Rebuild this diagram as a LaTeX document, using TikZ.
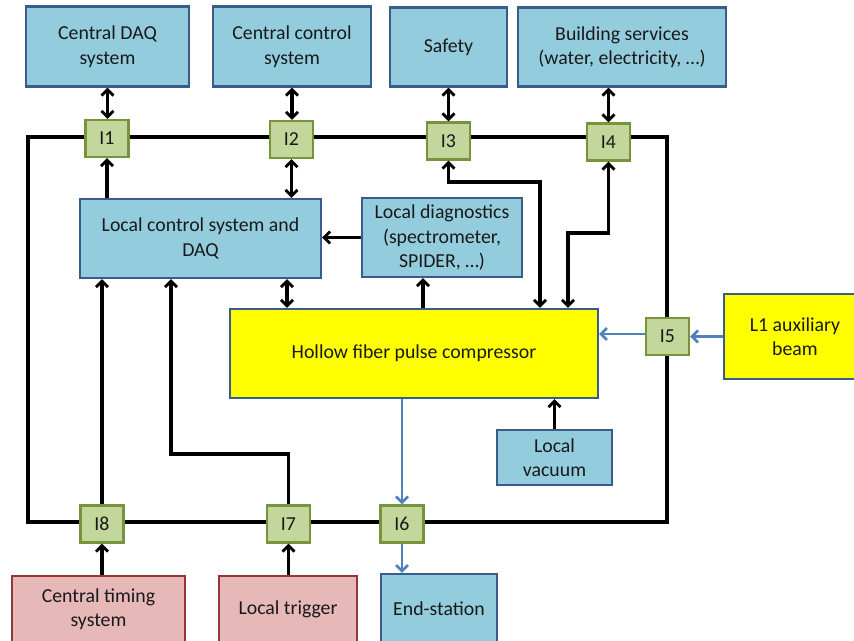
\documentclass[tikz,border=0pt]{standalone}
\usepackage{fontspec}
\setmainfont{Carlito}
\usetikzlibrary{arrows.meta,backgrounds}
\definecolor{bfill}{RGB}{147,205,221}
\definecolor{bdraw}{RGB}{56,93,138}
\definecolor{gfill}{RGB}{195,214,155}
\definecolor{gdraw}{RGB}{119,147,60}
\definecolor{pfill}{RGB}{230,185,184}
\definecolor{pdraw}{RGB}{149,55,53}
\definecolor{yfill}{RGB}{255,255,0}
\definecolor{barrow}{RGB}{79,129,189}
\begin{document}
\begin{tikzpicture}[x=1pt,y=-1pt,
  every node/.style={inner sep=0pt, align=center, font=\fontsize{19.8}{24.5}\selectfont, text=black!90},
  box/.style={draw=bdraw, line width=2.2pt, fill=bfill},
  ybox/.style={draw=bdraw, line width=2.2pt, fill=yfill},
  pbox/.style={draw=pdraw, line width=2.2pt, fill=pfill},
  ibox/.style={draw=gdraw, line width=2.4pt, fill=gfill, minimum width=43pt, minimum height=37pt},
  arr/.style={line width=3.2pt, black, -{Straight Barb[length=6pt,width=12pt,line width=2.8pt]}},
  darr/.style={line width=3.2pt, black, {Straight Barb[length=6pt,width=12pt,line width=2.8pt]}-{Straight Barb[length=6pt,width=12pt,line width=2.8pt]}},
  barr/.style={line width=2.6pt, barrow, -{Straight Barb[length=6pt,width=12pt,line width=2.6pt]}},
  bus/.style={line width=3.6pt, black, line join=miter}
]
\useasboundingbox (0,0) rectangle (854,640);

% top boxes
\node[box, minimum width=163pt, minimum height=80pt] (cdaq) at (107.5,46.5) {Central DAQ\\system};
\node[box, minimum width=158pt, minimum height=80pt] (cctrl) at (292,46.5) {Central control\\system};
\node[box, minimum width=117pt, minimum height=79pt] (safe) at (448.5,47) {Safety};
\node[box, minimum width=208pt, minimum height=79pt] (bld) at (622,47) {Building services\\(water, electricity, \dots)};

% interface boxes
\node[ibox] (i1) at (107,138.5) {I1};
\node[ibox] (i2) at (291.5,139.5) {I2};
\node[ibox] (i3) at (448.5,141) {I3};
\node[ibox] (i4) at (608.5,142) {I4};
\node[ibox] (i5) at (667.5,336.5) {I5};
\node[ibox] (i6) at (402,524) {I6};
\node[ibox] (i7) at (288.5,524) {I7};
\node[ibox] (i8) at (102,524) {I8};

% inner boxes
\node[box, minimum width=241pt, minimum height=79pt] (lcs) at (200.5,238.5) {Local control system and\\DAQ};
\node[box, minimum width=160pt, minimum height=79pt] (diag) at (442,237.5) {Local diagnostics\\(spectrometer,\\SPIDER, \dots)};
\node[ybox, minimum width=368pt, minimum height=89pt] (hfc) at (414,353.5) {Hollow fiber pulse compressor};
\node[box, minimum width=115pt, minimum height=55pt] (vac) at (554.5,457.5) {Local\\vacuum};
\node[ybox, minimum width=142pt, minimum height=85pt] (l1) at (795,336.5) {L1 auxiliary\\beam};

% bottom boxes
\node[pbox, minimum width=173pt, minimum height=66pt] (ctim) at (98.5,609) {Central timing\\system};
\node[pbox, minimum width=138pt, minimum height=66pt] (ltrig) at (288,609) {Local trigger};
\node[box, minimum width=116pt, minimum height=70pt] (end) at (439,609) {End-station};

% bus
\coordinate (c1) at (28,137);
\coordinate (c2) at (667,137);
\coordinate (c3) at (667,522);
\coordinate (c4) at (28,522);
\begin{pgfonlayer}{background}
\draw[bus] (c1) -- (c2) -- (c3) -- (c4) -- cycle;
\end{pgfonlayer}

% connectors
\draw[darr] (cdaq.south) -- (cdaq.south |- i1.north);
\draw[darr] (cctrl.south) -- (cctrl.south |- i2.north);
\draw[darr] (safe.south) -- (i3.north);
\draw[darr] (bld.south -| i4) -- (i4.north);

\draw[arr] (i1.south |- lcs.north) -- (i1.south);
\draw[darr] (i2.south) -- (i2.south |- lcs.north);

\coordinate (k3) at (540,182);
\coordinate (k4) at (568,233);
\draw[darr] (i3.south) |- (k3) -- (k3 |- hfc.north);
\draw[darr] (i4.south) |- (k4) -- (k4 |- hfc.north);

\draw[arr] (diag.west) -- (diag.west -| lcs.east);
\draw[arr] (hfc.north -| 423,0) -- (423,0 |- diag.south);
\draw[darr] (287,0 |- lcs.south) -- (287,0 |- hfc.north);

\draw[barr] (i5.west |- 0,334) -- (hfc.east |- 0,334);
\draw[barr] (l1.west) -- (i5.east);
\draw[barr] (hfc.south -| i6) -- (i6.north);
\draw[barr] (i6.south) -- (i6.south |- end.north);

\draw[arr] (vac.north) -- (vac.north |- hfc.south);

\draw[arr] (i8.north) -- (i8.north |- lcs.south);
\coordinate (k7) at (171,454);
\draw[arr] (i7.north) |- (k7) -- (k7 |- lcs.south);

\draw[arr] (ctim.north -| i8) -- (i8.south);
\draw[arr] (ltrig.north -| i7) -- (i7.south);
\end{tikzpicture}
\end{document}
